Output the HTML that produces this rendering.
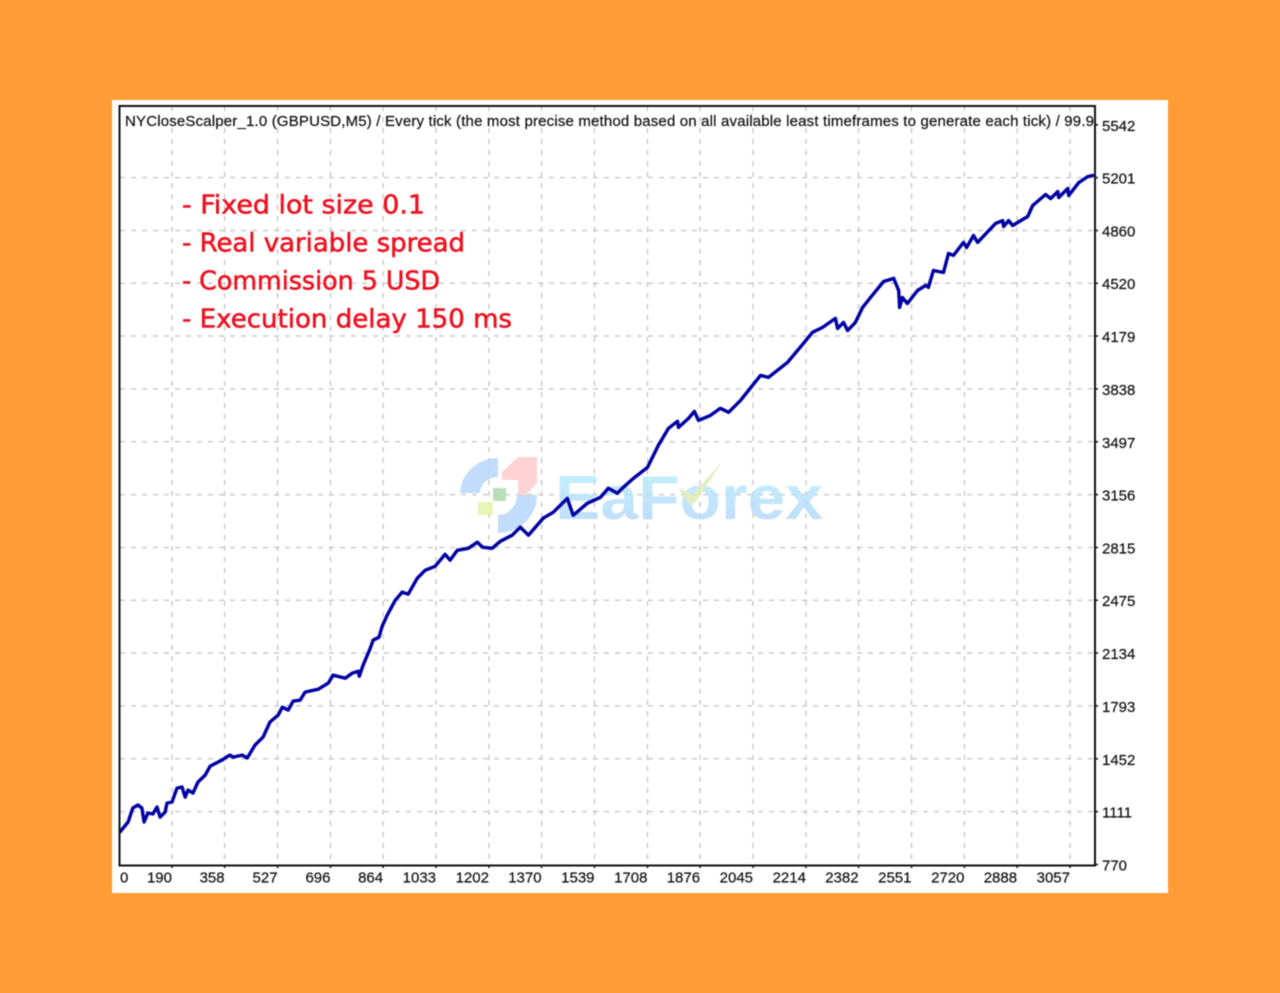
<!DOCTYPE html>
<html lang="en">
<head>
<meta charset="utf-8">
<title>NYCloseScalper balance chart</title>
<style>
html,body{margin:0;padding:0;background:#ff9c35;width:1280px;height:993px;overflow:hidden}
#chart{display:block;position:absolute;left:0;top:0;filter:blur(0.5px)}
text{font-family:"Liberation Sans",sans-serif}
</style>
</head>
<body>
<svg id="chart" xmlns="http://www.w3.org/2000/svg" width="1280" height="993" viewBox="0 0 1280 993">
  <defs>
    <clipPath id="plot-clip"><rect x="120" y="106" width="975" height="760"/></clipPath>
    <linearGradient id="wm-grad" x1="0" y1="0" x2="0" y2="1">
      <stop offset="0" stop-color="#b6f0fc"/>
      <stop offset="1" stop-color="#b4d2fb"/>
    </linearGradient>
  </defs>
  <rect x="112" y="100" width="1056" height="793" fill="#ffffff"/>
  <g id="grid"></g>
  <g opacity="0.82">
    <path d="M460 493 A38 36 0 0 1 498 458 L498 477 A18 16 0 0 0 480 493 Z" fill="#b5d6fb"/>
    <path d="M502 472 L518 457 L537 457 L537 483 L518 503 L518 480 L502 480 Z" fill="#ffcaca"/>
    <path d="M537 495 A39 38 0 0 1 498 533 L498 515 A19 20 0 0 0 517 495 Z" fill="#b5d6fb"/>
    <rect x="493" y="488" width="13" height="13" fill="#a9d8a9"/>
    <rect x="478" y="502" width="15" height="13" fill="#e4f3a8"/>
    <text x="555" y="519" font-size="62" font-weight="700" fill="url(#wm-grad)" textLength="268" lengthAdjust="spacingAndGlyphs">EaForex</text>
    <path d="M678 487 L692 495 L722 462 L695 503 L688 503 Z" fill="#dcebb4"/>
  </g>
  <g id="series" clip-path="url(#plot-clip)"></g>
  <g clip-path="url(#plot-clip)">
    <text x="125" y="126" font-size="15" fill="#111111" stroke="#111111" stroke-width="0.2" textLength="969" lengthAdjust="spacing">NYCloseScalper_1.0 (GBPUSD,M5) / Every tick (the most precise method based on all available least timeframes to generate each tick) / 99.9</text>
  </g>
  <g fill="#ee1120" font-size="26" stroke="#ee1120" stroke-width="0.55">
    <text x="182" y="213.5" textLength="243" lengthAdjust="spacingAndGlyphs" style="font-family:'DejaVu Sans',sans-serif">- Fixed lot size 0.1</text>
    <text x="182" y="251.5" textLength="283" lengthAdjust="spacingAndGlyphs" style="font-family:'DejaVu Sans',sans-serif">- Real variable spread</text>
    <text x="182" y="289.5" textLength="258" lengthAdjust="spacingAndGlyphs" style="font-family:'DejaVu Sans',sans-serif">- Commission 5 USD</text>
    <text x="182" y="327.5" textLength="330" lengthAdjust="spacingAndGlyphs" style="font-family:'DejaVu Sans',sans-serif">- Execution delay 150 ms</text>
  </g>
  <rect x="119.5" y="106" width="975.5" height="759.5" fill="none" stroke="#111111" stroke-width="2"/>
  <g id="axes"></g>
</svg>
<script>
const xTickLabels = [190, 358, 527, 696, 864, 1033, 1202, 1370, 1539, 1708, 1876, 2045, 2214, 2382, 2551, 2720, 2888, 3057];
const yTickLabels = [770, 1111, 1452, 1793, 2134, 2475, 2815, 3156, 3497, 3838, 4179, 4520, 4860, 5201, 5542];
const trades = [24,50,65,81,94,101,113,129,142,152,168,174,190,206,222,232,241,257,273,296,312,350,375,385,414,430,455,481,503,529,542,561,577,599,615,657,689,704,743,765,784,788,800,823,832,851,861,877,903,925,944,973,998,1030,1062,1078,1101,1136,1165,1181,1212,1238,1276,1302,1328,1375,1407,1452,1471,1516,1558,1583,1612,1631,1663,1708,1743,1775,1804,1807,1839,1858,1871,1909,1941,1967,2005,2069,2094,2155,2206,2235,2267,2308,2315,2334,2347,2372,2395,2420,2462,2494,2510,2513,2522,2538,2570,2596,2605,2621,2653,2669,2685,2717,2727,2749,2762,2819,2842,2845,2861,2874,2922,2938,2979,2995,3018,3021,3050,3053,3085,3114,3129];
const balance = [980,1044,1134,1154,1134,1044,1102,1096,1141,1076,1108,1166,1173,1263,1270,1205,1250,1231,1302,1347,1405,1444,1476,1463,1476,1457,1540,1592,1689,1734,1785,1766,1824,1830,1882,1901,1940,1992,1972,2004,2017,1985,2056,2166,2217,2236,2307,2378,2475,2527,2514,2617,2668,2694,2771,2733,2797,2810,2849,2817,2810,2855,2894,2946,2894,3004,3042,3132,3023,3100,3139,3197,3165,3203,3261,3332,3474,3584,3629,3590,3648,3693,3635,3667,3713,3687,3764,3925,3912,4009,4132,4203,4235,4293,4228,4267,4215,4267,4364,4428,4531,4551,4473,4364,4428,4389,4473,4506,4493,4602,4589,4712,4699,4783,4750,4828,4783,4905,4924,4886,4924,4892,4950,5021,5092,5066,5111,5073,5131,5086,5169,5208,5215];

const NS = 'http://www.w3.org/2000/svg';
const xScale = function (n) { return 172 + (n - 190) * 898 / 2867; };
const yScale = function (v) { return 864.5 - (v - 770) * 52.86 / 341; };
const PLOT = { left: 120, right: 1095, top: 106, bottom: 865 };
const LABEL_COLOR = '#111111';

const gridLayer = document.getElementById('grid');
const axesLayer = document.getElementById('axes');
const seriesLayer = document.getElementById('series');

function make(tag, attrs, parent) {
  const el = document.createElementNS(NS, tag);
  Object.keys(attrs).forEach(function (k) { el.setAttribute(k, attrs[k]); });
  parent.appendChild(el);
  return el;
}

xTickLabels.forEach(function (n) {
  const x = xScale(n);
  const gl = make('line', { x1: x, x2: x, y1: PLOT.top, y2: PLOT.bottom, stroke: '#cbcbcb', 'stroke-width': 1.5, 'stroke-dasharray': '5 6' }, gridLayer);
  
  
  const tk = make('line', { x1: x, x2: x, y1: PLOT.bottom, y2: PLOT.bottom + 3, stroke: '#111', 'stroke-width': 1.5 }, axesLayer);
  
  
  const lb = make('text', { x: x, y: 882.5, 'text-anchor': 'end', 'font-size': 15, fill: LABEL_COLOR, stroke: LABEL_COLOR, 'stroke-width': 0.2 }, axesLayer);
  lb.textContent = String(n);
  
  
});

const zeroLabel = make('text', { x: 120, y: 882.5, 'font-size': 15, fill: LABEL_COLOR, stroke: LABEL_COLOR, 'stroke-width': 0.2 }, axesLayer);
zeroLabel.textContent = '0';



yTickLabels.forEach(function (v) {
  const y = yScale(v);
  if (v > 770 && v < 5542) {
    const gl = make('line', { x1: PLOT.left, x2: PLOT.right, y1: y, y2: y, stroke: '#cbcbcb', 'stroke-width': 1.5, 'stroke-dasharray': '5 6' }, gridLayer);
    
    
  }
  const tk = make('line', { x1: PLOT.right, x2: PLOT.right + 3, y1: y, y2: y, stroke: '#111', 'stroke-width': 1.5 }, axesLayer);
  
  
  const lb = make('text', { x: 1102, y: y + 6, 'font-size': 15, fill: LABEL_COLOR, stroke: LABEL_COLOR, 'stroke-width': 0.2 }, axesLayer);
  lb.textContent = String(v);
  
  
});

const pts = trades.map(function (n, i) {
  return xScale(n).toFixed(1) + ',' + yScale(balance[i]).toFixed(1);
}).join(' ');
const line = make('polyline', { points: pts, fill: 'none', stroke: '#0000a4', 'stroke-width': 3.4, 'stroke-linejoin': 'round', 'stroke-linecap': 'round' }, seriesLayer);


</script>
</body>
</html>
